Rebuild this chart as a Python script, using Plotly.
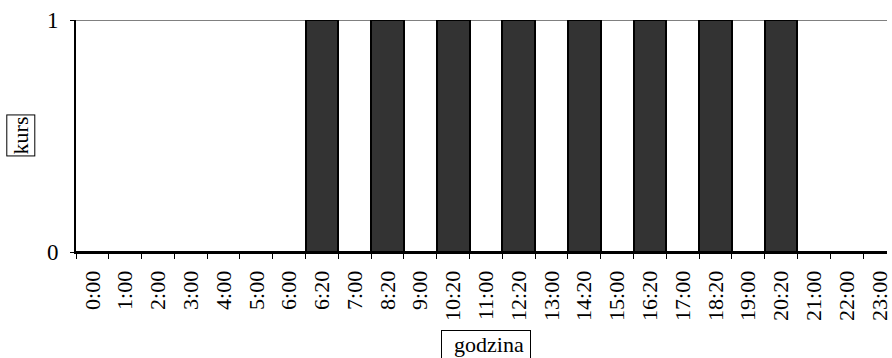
import plotly.graph_objects as go

# departure slots over the day and whether a course runs in each slot
godziny = ["0:00", "1:00", "2:00", "3:00", "4:00", "5:00", "6:00", "6:20",
           "7:00", "8:20", "9:00", "10:20", "11:00", "12:20", "13:00", "14:20",
           "15:00", "16:20", "17:00", "18:20", "19:00", "20:20", "21:00",
           "22:00", "23:00"]
kurs = [0, 0, 0, 0, 0, 0, 0, 1, 0, 1, 0, 1, 0, 1, 0, 1, 0, 1, 0, 1, 0, 1, 0, 0, 0]
y_ticks = [0, 1]

FONT = "Liberation Serif, Times New Roman, serif"

fig = go.Figure(
    go.Bar(
        x=godziny,
        y=kurs,
        marker=dict(color="#333333", line=dict(color="#000000", width=2)),
        hoverinfo="x+y",
    )
)

fig.update_layout(
    width=892,
    height=358,
    margin=dict(l=76, r=0, t=20, b=106),
    paper_bgcolor="white",
    plot_bgcolor="white",
    bargap=0,
    showlegend=False,
    font=dict(family=FONT, size=22, color="#000000"),
)

fig.update_xaxes(
    type="category",
    range=[-0.5, 24.23],
    tickson="boundaries",
    ticks="outside",
    ticklen=5,
    tickwidth=1,
    tickcolor="#000000",
    tickangle=-90,
    ticklabelstandoff=8,
    tickfont=dict(family=FONT, size=22, color="#000000"),
    showline=True,
    linecolor="#000000",
    linewidth=2,
    showgrid=False,
    zeroline=False,
)

fig.update_yaxes(
    range=[0, 1],
    tickvals=y_ticks,
    ticktext=[str(v) for v in y_ticks],
    ticks="outside",
    ticklen=4,
    tickwidth=1,
    tickcolor="#000000",
    ticklabelstandoff=7,
    tickfont=dict(family=FONT, size=23, color="#000000"),
    showline=True,
    linecolor="#000000",
    linewidth=2,
    showgrid=False,
    zeroline=False,
)

# gray major gridline at the top value, drawn beneath the bars
fig.add_shape(
    type="line",
    xref="paper", yref="y",
    x0=0, x1=1, y0=max(y_ticks), y1=max(y_ticks),
    line=dict(color="#808080", width=2),
    layer="below",
)

# boxed axis titles
fig.add_annotation(
    text="kurs",
    xref="paper", yref="paper",
    x=-0.0686, y=0.504,
    xanchor="center", yanchor="middle",
    textangle=-90,
    showarrow=False,
    font=dict(family=FONT, size=22, color="#000000"),
    bordercolor="#000000", borderwidth=1, borderpad=1,
)
fig.add_annotation(
    text="\u00a0\u00a0godzina\u00a0",
    xref="paper", yref="paper",
    x=0.505, y=-0.335,
    xanchor="center", yanchor="top",
    showarrow=False,
    font=dict(family=FONT, size=22, color="#000000"),
    bordercolor="#000000", borderwidth=1, borderpad=1,
)

fig.write_html("out.html")
